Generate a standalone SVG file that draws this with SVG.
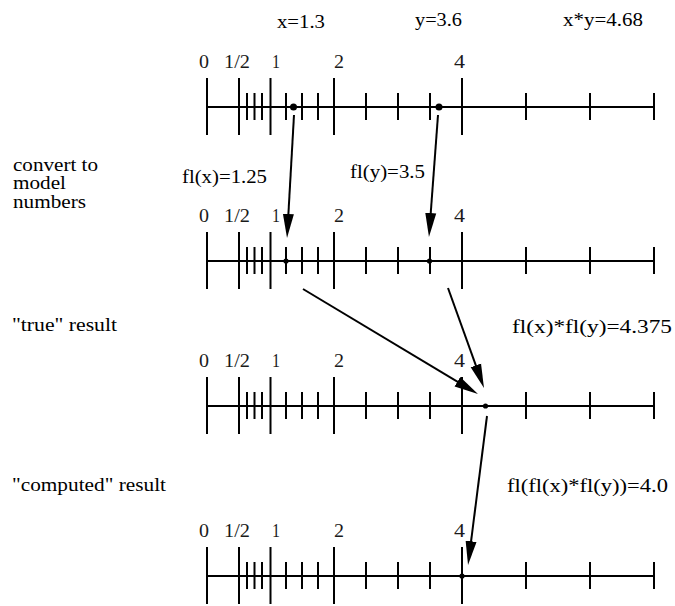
<svg xmlns="http://www.w3.org/2000/svg" xmlns:xlink="http://www.w3.org/1999/xlink" width="675" height="606" viewBox="0 0 675 606" font-family="'Liberation Serif', 'Times New Roman', serif" font-size="18">
<style>
.ax{stroke:#000;stroke-width:2;fill:none}
.lbl{fill:#1a1a1a}
.arr{stroke:#000;stroke-width:2;fill:none;marker-end:url(#ah)}
</style>
<defs>
<marker id="ah" viewBox="0 0 24 12" refX="14" refY="6" markerWidth="24" markerHeight="12" markerUnits="userSpaceOnUse" orient="auto">
<path d="M0,0.5 L24,6 L0,11.5 z" fill="#000"/>
</marker>
<g id="nl">
<path class="ax" d="M207,0H654 M207,-29V28 M239,-29V28 M270.5,-29V28 M334,-29V28 M462,-29V28 M247,-14V13 M254.5,-14V13 M262,-14V13 M286,-14V13 M302,-14V13 M318,-14V13 M366,-14V13 M398,-14V13 M430,-14V13 M526,-14V13 M590,-14V13 M654,-14V13"/>
<text class="lbl" x="199" y="-39" textLength="10" lengthAdjust="spacingAndGlyphs">0</text>
<text class="lbl" x="224" y="-39" textLength="26" lengthAdjust="spacingAndGlyphs">1/2</text>
<text class="lbl" x="272" y="-39" textLength="8" lengthAdjust="spacingAndGlyphs">1</text>
<text class="lbl" x="334" y="-39" textLength="10" lengthAdjust="spacingAndGlyphs">2</text>
<text class="lbl" x="454" y="-39" textLength="11" lengthAdjust="spacingAndGlyphs">4</text>
</g>
</defs>

<g id="labels">
<text x="277" y="28" textLength="48" lengthAdjust="spacingAndGlyphs">x=1.3</text>
<text x="415" y="26" textLength="47" lengthAdjust="spacingAndGlyphs">y=3.6</text>
<text x="563" y="26" textLength="80" lengthAdjust="spacingAndGlyphs">x*y=4.68</text>
<text x="13" y="171" textLength="85" lengthAdjust="spacingAndGlyphs">convert to</text>
<text x="13" y="189" textLength="53" lengthAdjust="spacingAndGlyphs">model</text>
<text x="13" y="208" textLength="73" lengthAdjust="spacingAndGlyphs">numbers</text>
<text x="182" y="183" textLength="85" lengthAdjust="spacingAndGlyphs">fl(x)=1.25</text>
<text x="350" y="178" textLength="75" lengthAdjust="spacingAndGlyphs">fl(y)=3.5</text>
<text x="12" y="331" textLength="105" lengthAdjust="spacingAndGlyphs">"true" result</text>
<text x="512" y="333" textLength="160" lengthAdjust="spacingAndGlyphs">fl(x)*fl(y)=4.375</text>
<text x="12" y="491" textLength="154" lengthAdjust="spacingAndGlyphs">"computed" result</text>
<text x="507" y="492" textLength="161" lengthAdjust="spacingAndGlyphs">fl(fl(x)*fl(y))=4.0</text>
</g>

<g id="line1" transform="translate(0,107)">
<use xlink:href="#nl"/>
<circle cx="293.5" cy="0" r="3.5"/>
<circle cx="439" cy="0" r="3.5"/>
</g>
<g id="line2" transform="translate(0,261)">
<use xlink:href="#nl"/>
<circle cx="286" cy="0" r="2.6"/>
<circle cx="429.5" cy="0" r="2.6"/>
</g>
<g id="line3" transform="translate(0,406)">
<use xlink:href="#nl"/>
<circle cx="485.5" cy="0" r="2.6"/>
</g>
<g id="line4" transform="translate(0,576)">
<use xlink:href="#nl"/>
<circle cx="462" cy="0" r="2.6"/>
</g>

<g id="connectors">
<path class="arr" d="M294,115 L287.6,228"/>
<path class="arr" d="M438,115 L429.7,227"/>
<path class="arr" d="M303,289 L469.4,388.9"/>
<path class="arr" d="M448,288 L480.6,378.6"/>
<path class="arr" d="M487,416 L469.3,555.1"/>
</g>
</svg>
